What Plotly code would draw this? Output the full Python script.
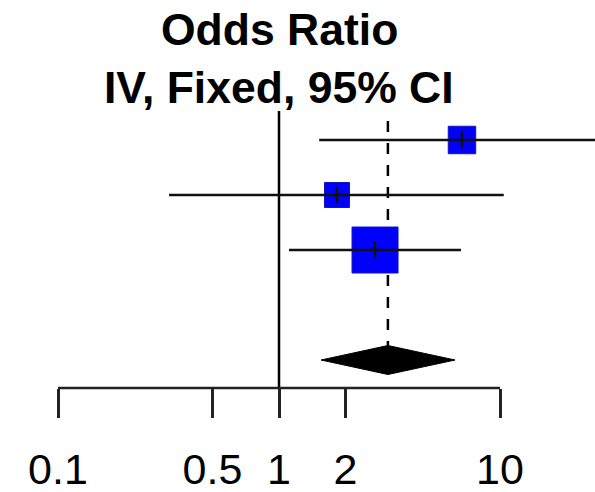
import numpy as np
import plotly.graph_objects as go

# ---- data ----
studies = ["Study 1", "Study 2", "Study 3"]
odds_ratio = [6.73, 1.83, 2.72]
ci_lower = [1.52, 0.318, 1.11]
ci_upper = [30.0, 10.4, 6.66]
weights = [21.6, 17.9, 60.5]
pooled_or = 3.11
pooled_lower = 1.55
pooled_upper = 6.26
tick_values = [0.1, 0.5, 1, 2, 10]
tick_labels = ["0.1", "0.5", "1", "2", "10"]

# ---- layout helpers ----
W, H = 595, 492
plot_bottom = 388                     # pixel of the axis line
row_px0, row_step = 140, 55           # pixel of row 1, pixels per row
x_px0, x_decade = 279, 221            # pixel of OR=1, pixels per decade

rows = [1, 2, 3]
pooled_row = 5

def px_to_row(px):
    return 1 + (px - row_px0) / row_step

def px_to_paper(px):
    return 1 - px / plot_bottom

x_range = [(0 - x_px0) / x_decade, (W - x_px0) / x_decade]
y_range = [px_to_row(plot_bottom), px_to_row(0)]

fig = go.Figure()

# weight boxes
max_w = max(weights)
sizes = [46 * np.sqrt(w / max_w) for w in weights]
fig.add_trace(go.Scatter(x=odds_ratio, y=rows, mode="markers",
                         marker=dict(symbol="square", size=sizes, color="#0000ff", opacity=1,
                                     line=dict(color="#1515c0", width=1)),
                         showlegend=False))

# confidence interval lines (drawn over the boxes)
for r, lo, hi in zip(rows, ci_lower, ci_upper):
    fig.add_trace(go.Scatter(x=[lo, hi], y=[r, r], mode="lines",
                             line=dict(color="#111111", width=2.5),
                             showlegend=False, hoverinfo="skip"))

# point estimate ticks
fig.add_trace(go.Scatter(x=odds_ratio, y=rows, mode="markers",
                         marker=dict(symbol="line-ns", size=12, opacity=1,
                                     line=dict(color="#111111", width=2.5)),
                         showlegend=False, hoverinfo="skip"))

# pooled diamond
half_h = 14.5 / row_step
fig.add_trace(go.Scatter(
    x=[pooled_lower, pooled_or, pooled_upper, pooled_or, pooled_lower],
    y=[pooled_row, pooled_row - half_h, pooled_row, pooled_row + half_h, pooled_row],
    mode="lines", fill="toself", fillcolor="#000000",
    line=dict(color="#000000", width=1), showlegend=False))

# line of no effect
fig.add_shape(type="line", xref="x", yref="y", x0=1, x1=1,
              y0=px_to_row(111), y1=y_range[0],
              line=dict(color="#000000", width=2.5), layer="below")
# pooled estimate dashed line
fig.add_shape(type="line", xref="x", yref="y", x0=pooled_or, x1=pooled_or,
              y0=px_to_row(121), y1=pooled_row,
              line=dict(color="#000000", width=2.5, dash="11px,11px"), layer="below")
# axis baseline from first to last tick
fig.add_shape(type="line", xref="x", yref="paper", x0=tick_values[0], x1=tick_values[-1],
              y0=0, y1=0, line=dict(color="#222222", width=2.5))

# titles
title_font = dict(family="Liberation Sans, Arial, Helvetica", size=44.5, color="#000000")
fig.add_annotation(text="<b>Odds Ratio</b>", x=0, xref="x", y=px_to_paper(30), yref="paper",
                   xanchor="center", yanchor="middle", showarrow=False, font=title_font)
fig.add_annotation(text="<b>IV, Fixed, 95% CI</b>", x=0, xref="x", y=px_to_paper(88), yref="paper",
                   xanchor="center", yanchor="middle", showarrow=False, font=title_font)

fig.update_xaxes(type="log", range=x_range, tickvals=tick_values, ticktext=tick_labels,
                 ticks="outside", ticklen=29, tickwidth=2.5, tickcolor="#222222",
                 showline=False, showgrid=False, zeroline=False, automargin=False,
                 tickfont=dict(family="Liberation Sans, Arial, Helvetica", size=43, color="#000000"),
                 ticklabelstandoff=14)
fig.update_yaxes(range=y_range, visible=False, showgrid=False, zeroline=False, automargin=False)

fig.update_layout(width=W, height=H, plot_bgcolor="white", paper_bgcolor="white",
                  margin=dict(l=0, r=0, t=0, b=H - plot_bottom, autoexpand=False),
                  showlegend=False)

fig.write_html("out.html", config={"displayModeBar": False},
               post_script="document.body.style.margin='0';document.body.style.overflow='hidden';")
